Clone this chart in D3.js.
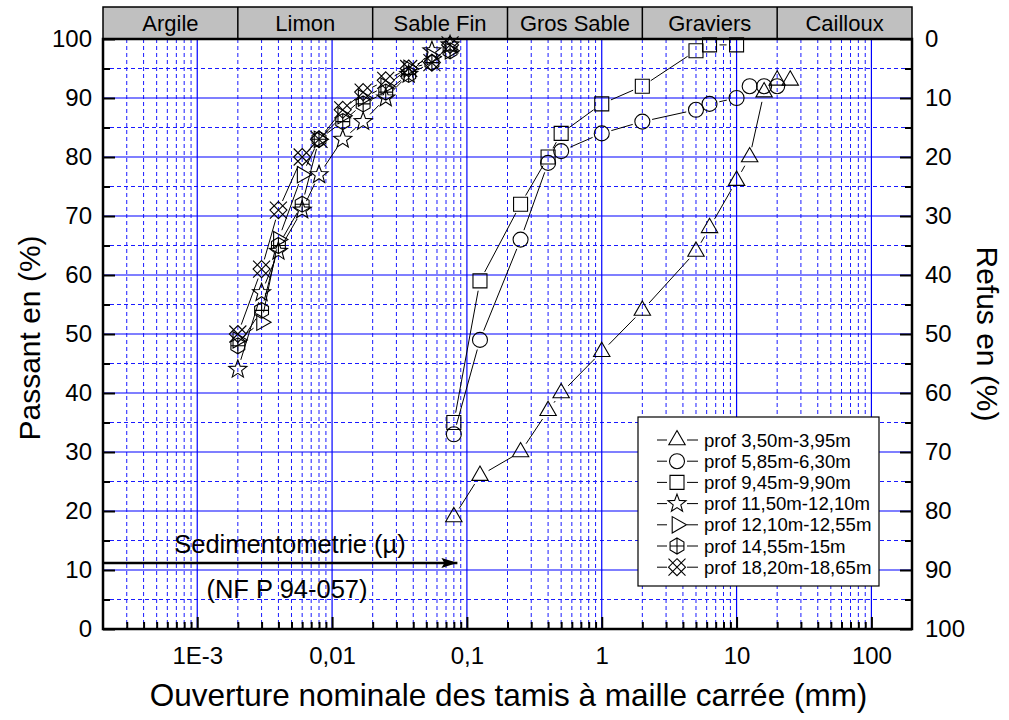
<!DOCTYPE html>
<html>
<head>
<meta charset="utf-8">
<script src="https://cdn.jsdelivr.net/npm/d3@7"></script>
<style>
  body { margin: 0; background: #fff; }
  svg { display: block; font-family: "Liberation Sans", Arial, sans-serif; }
</style>
</head>
<body>
<svg id="chart" width="1009" height="720"></svg>
<script>
// tamis (mm) et sedimentometrie (mm)
const sieveX = [0.08, 0.125, 0.25, 0.4, 0.5, 1, 2, 5, 6.3, 10, 12.5, 16, 20, 25];
const sedX = [0.002, 0.003, 0.004, 0.006, 0.008, 0.012, 0.017, 0.025, 0.037, 0.055, 0.075];

const seriesNames = ["prof 3,50m-3,95m", "prof 5,85m-6,30m", "prof 9,45m-9,90m",
    "prof 11,50m-12,10m", "prof 12,10m-12,55m", "prof 14,55m-15m", "prof 18,20m-18,65m"];
const seriesMarkers = ["triangle", "circle", "square", "star", "right", "hexplus", "xdiamond"];

// passant en %
const passant1 = [19, 26, 30, 37, 40, 47, 54, 64, 68, 76, 80, 91, 93, 93];
const passant2 = [33, 49, 66, 79, 81, 84, 86, 88, 89, 90, 92, 92, 92];
const passant3 = [35, 59, 72, 80, 84, 89, 92, 98, 99, 99];
const passant4 = [44, 57, 64, 71, 77, 83, 86, 90, 94, 98, 99];
const passant5 = [49, 52, 66, 77, 83, 87, 90, 92, 95, 97, 98];
const passant6 = [48, 54, 65, 72, 83, 86, 89, 91, 94, 96, 98];
const passant7 = [50, 61, 71, 80, 83, 88, 91, 93, 95, 96, 99];

// classes granulometriques (bandeau du haut)
const classBounds = [2e-4, 0.002, 0.02, 0.2, 2, 20, 200];
const classNames = ["Argile", "Limon", "Sable Fin", "Gros Sable", "Graviers", "Cailloux"];

const xTickValues = [1e-3, 0.01, 0.1, 1, 10, 100];
const xTickLabels = ["1E-3", "0,01", "0,1", "1", "10", "100"];
const yTickValues = [0, 10, 20, 30, 40, 50, 60, 70, 80, 90, 100];
const yMinorValues = [5, 15, 25, 35, 45, 55, 65, 75, 85, 95];

// fleche sedimentometrie
const arrowEnd = 0.085;
const arrowLevel = 11.2;

const xCols = [sieveX, sieveX, sieveX, sedX, sedX, sedX, sedX];
const yCols = [passant1, passant2, passant3, passant4, passant5, passant6, passant7];
const series = seriesNames.map((name, i) => ({
    name: name,
    marker: seriesMarkers[i],
    points: yCols[i].map((v, j) => ({x: xCols[i][j], y: v}))
}));

const font = '"Liberation Sans", Arial, sans-serif';
const area = {left: 103, right: 912, top: 39, bottom: 629, headerTop: 7};

const svg = d3.select("#chart");

const scX = d3.scaleLog().domain([2e-4, 200]).range([area.left, area.right]);
const scY = d3.scaleLinear().domain([0, 100]).range([area.bottom, area.top]);
const scYR = d3.scaleLinear().domain([100, 0]).range([area.bottom, area.top]);

// petites graduations logarithmiques (2..9 de chaque decade)
let xMinor = [];
for (let e = -4; e <= 2; e++) {
    for (let m = 2; m <= 9; m++) {
        let v = m * Math.pow(10, e);
        if (v > 2e-4 * 1.0001 && v < 200 * 0.9999) xMinor.push(v);
    }
}

// grille
const grid = svg.append("g");
grid.selectAll(null).data(xMinor).enter().append("line")
    .attr("x1", d => scX(d)).attr("x2", d => scX(d))
    .attr("y1", area.top).attr("y2", area.bottom)
    .attr("stroke", "#1a1aff").attr("stroke-width", 1).attr("stroke-dasharray", "4,3");
grid.selectAll(null).data(yMinorValues).enter().append("line")
    .attr("x1", area.left).attr("x2", area.right)
    .attr("y1", d => scY(d)).attr("y2", d => scY(d))
    .attr("stroke", "#1a1aff").attr("stroke-width", 1).attr("stroke-dasharray", "4,3");
grid.selectAll(null).data(xTickValues).enter().append("line")
    .attr("x1", d => scX(d)).attr("x2", d => scX(d))
    .attr("y1", area.top).attr("y2", area.bottom)
    .attr("stroke", "#0000ff").attr("stroke-width", 1.2);
grid.selectAll(null).data(yTickValues.slice(1, -1)).enter().append("line")
    .attr("x1", area.left).attr("x2", area.right)
    .attr("y1", d => scY(d)).attr("y2", d => scY(d))
    .attr("stroke", "#0000ff").attr("stroke-width", 1.2);

// bandeau des classes
const header = svg.append("g");
header.append("rect")
    .attr("x", area.left).attr("y", area.headerTop)
    .attr("width", area.right - area.left).attr("height", area.top - area.headerTop)
    .attr("fill", "#c0c0c0").attr("stroke", "#000").attr("stroke-width", 1.5);
header.selectAll(null).data(classBounds.slice(1, -1)).enter().append("line")
    .attr("x1", d => scX(d)).attr("x2", d => scX(d))
    .attr("y1", area.headerTop).attr("y2", area.top)
    .attr("stroke", "#000").attr("stroke-width", 1.5);
header.selectAll(null).data(classNames).enter().append("text")
    .attr("x", (d, i) => (scX(classBounds[i]) + scX(classBounds[i + 1])) / 2)
    .attr("y", 31)
    .attr("text-anchor", "middle")
    .style("font-size", "22px")
    .text(d => d);

// axes (graduations vers l'interieur)
function styleAxis(g) {
    g.select(".domain").remove();
    g.selectAll(".tick line").attr("stroke", "#000").attr("stroke-width", 2);
    g.selectAll(".tick text").attr("fill", "#000").style("font-family", font).style("font-size", "24px");
}

svg.append("g")
    .attr("transform", `translate(${area.left},0)`)
    .call(d3.axisLeft(scY).tickValues(yTickValues).tickSize(-12).tickPadding(11).tickFormat(d3.format("d")))
    .call(styleAxis);
svg.append("g")
    .attr("transform", `translate(${area.left},0)`)
    .call(d3.axisLeft(scY).tickValues(yMinorValues).tickSize(-7).tickFormat(""))
    .call(styleAxis);

svg.append("g")
    .attr("transform", `translate(${area.right},0)`)
    .call(d3.axisRight(scYR).tickValues(yTickValues).tickSize(-12).tickPadding(13).tickFormat(d3.format("d")))
    .call(styleAxis);
svg.append("g")
    .attr("transform", `translate(${area.right},0)`)
    .call(d3.axisRight(scYR).tickValues(yMinorValues).tickSize(-7).tickFormat(""))
    .call(styleAxis);

svg.append("g")
    .attr("transform", `translate(0,${area.bottom})`)
    .call(d3.axisBottom(scX).tickValues(xTickValues).tickSize(-12).tickPadding(18)
        .tickFormat((d, i) => xTickLabels[i]))
    .call(styleAxis);
svg.append("g")
    .attr("transform", `translate(0,${area.bottom})`)
    .call(d3.axisBottom(scX).tickValues(xMinor).tickSize(-7).tickFormat(""))
    .call(styleAxis);

// cadre
svg.append("rect")
    .attr("x", area.left).attr("y", area.top)
    .attr("width", area.right - area.left).attr("height", area.bottom - area.top)
    .attr("fill", "none").attr("stroke", "#000").attr("stroke-width", 2.5);

// titres des axes
svg.append("text")
    .attr("x", (area.left + area.right) / 2 + 1).attr("y", 706)
    .attr("text-anchor", "middle").style("font-size", "31.5px")
    .text("Ouverture nominale des tamis à maille carrée (mm)");
svg.append("text")
    .attr("transform", `translate(40,${(area.top + area.bottom) / 2 + 4}) rotate(-90)`)
    .attr("text-anchor", "middle").style("font-size", "30px")
    .text("Passant en (%)");
svg.append("text")
    .attr("transform", `translate(977,${(area.top + area.bottom) / 2}) rotate(90)`)
    .attr("text-anchor", "middle").style("font-size", "30px")
    .text("Refus en (%)");

// fleche sedimentometrie
svg.append("defs").append("marker")
    .attr("id", "arrow").attr("viewBox", "0 0 16 10")
    .attr("refX", 16).attr("refY", 5)
    .attr("markerWidth", 16).attr("markerHeight", 10)
    .attr("markerUnits", "userSpaceOnUse").attr("orient", "auto")
    .append("path").attr("d", "M0,0 L16,5 L0,10 L3,5 Z").attr("fill", "#000");
svg.append("line")
    .attr("x1", area.left).attr("x2", scX(arrowEnd))
    .attr("y1", scY(arrowLevel)).attr("y2", scY(arrowLevel))
    .attr("stroke", "#000").attr("stroke-width", 2.5)
    .attr("marker-end", "url(#arrow)");
svg.append("text")
    .attr("x", 290).attr("y", scY(arrowLevel) - 10)
    .attr("text-anchor", "middle").style("font-size", "25.5px")
    .text("Sedimentometrie (µ)");
svg.append("text")
    .attr("x", 287).attr("y", scY(arrowLevel) + 35)
    .attr("text-anchor", "middle").style("font-size", "25.5px")
    .text("(NF P 94-057)");

// formes des symboles
function markerPath(type) {
    let p = d3.path();
    if (type === "triangle") {
        p.moveTo(0, -9.5); p.lineTo(8.2, 4.8); p.lineTo(-8.2, 4.8); p.closePath();
    } else if (type === "circle") {
        p.moveTo(7.5, 0); p.arc(0, 0, 7.5, 0, 2 * Math.PI);
    } else if (type === "square") {
        p.rect(-7, -7, 14, 14);
    } else if (type === "star") {
        for (let k = 0; k < 10; k++) {
            let r = k % 2 === 0 ? 9.5 : 4;
            let a = -Math.PI / 2 + k * Math.PI / 5;
            if (k === 0) p.moveTo(r * Math.cos(a), r * Math.sin(a));
            else p.lineTo(r * Math.cos(a), r * Math.sin(a));
        }
        p.closePath();
    } else if (type === "right") {
        p.moveTo(9.5, 0); p.lineTo(-4.8, 8.2); p.lineTo(-4.8, -8.2); p.closePath();
    } else if (type === "hexplus") {
        for (let k = 0; k < 6; k++) {
            let a = -Math.PI / 2 + k * Math.PI / 3;
            if (k === 0) p.moveTo(8 * Math.cos(a), 8 * Math.sin(a));
            else p.lineTo(8 * Math.cos(a), 8 * Math.sin(a));
        }
        p.closePath();
        p.moveTo(0, -8); p.lineTo(0, 8);
        p.moveTo(-6.9, 0); p.lineTo(6.9, 0);
    } else if (type === "xdiamond") {
        p.moveTo(0, -8.5); p.lineTo(8.5, 0); p.lineTo(0, 8.5); p.lineTo(-8.5, 0); p.closePath();
        p.moveTo(-8.5, -8.5); p.lineTo(8.5, 8.5);
        p.moveTo(-8.5, 8.5); p.lineTo(8.5, -8.5);
    }
    return p.toString();
}

// courbes : segments raccourcis pour laisser un espace autour des symboles
const gap = 10;
function drawSeries(s) {
    let pts = s.points.map(d => [scX(d.x), scY(d.y)]);
    let segs = [];
    for (let i = 0; i < pts.length - 1; i++) {
        let [x1, y1] = pts[i], [x2, y2] = pts[i + 1];
        let len = Math.hypot(x2 - x1, y2 - y1);
        if (len <= 2 * gap) continue;
        let ux = (x2 - x1) / len, uy = (y2 - y1) / len;
        segs.push([x1 + ux * gap, y1 + uy * gap, x2 - ux * gap, y2 - uy * gap]);
    }
    let g = svg.append("g");
    g.selectAll(null).data(segs).enter().append("line")
        .attr("x1", d => d[0]).attr("y1", d => d[1])
        .attr("x2", d => d[2]).attr("y2", d => d[3])
        .attr("stroke", "#000").attr("stroke-width", 1);
    g.selectAll(null).data(s.points).enter().append("path")
        .attr("d", markerPath(s.marker))
        .attr("transform", d => `translate(${scX(d.x)},${scY(d.y)})`)
        .attr("fill", "none").attr("stroke", "#000").attr("stroke-width", 1.1);
}
series.forEach(drawSeries);

// legende
const leg = {x: 638, y: 417, w: 241, h: 169, row: 21.2};
const legend = svg.append("g");
legend.append("rect")
    .attr("x", leg.x).attr("y", leg.y).attr("width", leg.w).attr("height", leg.h)
    .attr("fill", "#fff").attr("stroke", "#000").attr("stroke-width", 1.2);
const items = legend.selectAll(null).data(series).enter().append("g")
    .attr("transform", (d, i) => `translate(${leg.x + 39},${leg.y + 23 + i * leg.row})`);
items.append("line").attr("x1", -20).attr("x2", -10).attr("stroke", "#000");
items.append("line").attr("x1", 10).attr("x2", 21).attr("stroke", "#000");
items.append("path")
    .attr("d", d => markerPath(d.marker))
    .attr("fill", "none").attr("stroke", "#000").attr("stroke-width", 1.1);
items.append("text")
    .attr("x", 27).attr("y", 6.5)
    .style("font-size", "18.6px")
    .text(d => d.name);
</script>
</body>
</html>
